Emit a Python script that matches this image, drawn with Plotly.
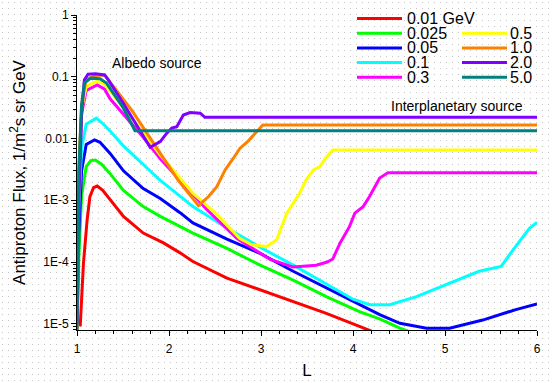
import plotly.graph_objects as go
import base64

# ---------------- data ----------------
energies = ["0.01 GeV", "0.025", "0.05", "0.1", "0.3", "0.5", "1.0", "2.0", "5.0"]
colors = ["#ff0000", "#00ff00", "#0000ff", "#00ffff", "#ff00ff",
          "#ffff00", "#ff8000", "#8000ff", "#008080"]

L_001 = [1.035, 1.07, 1.11, 1.14, 1.18, 1.22, 1.28, 1.36, 1.505, 1.72, 1.94, 2.12, 2.26, 2.63, 2.99, 3.35, 3.71, 4.07, 4.2]
F_001 = [9.1e-6, 9.5e-5, 4.8e-4, 1.15e-3, 1.6e-3, 1.7e-3, 1.45e-3, 1.02e-3, 5.5e-4, 2.95e-4, 2.04e-4, 1.41e-4, 1.02e-4, 5.5e-5, 3.55e-5, 2.3e-5, 1.48e-5, 9.1e-6, 7.6e-6]

L_0025 = [1.0, 1.02, 1.05, 1.1, 1.15, 1.2, 1.27, 1.36, 1.505, 1.72, 1.905, 2.12, 2.26, 2.63, 2.99, 3.35, 3.71, 4.07, 4.29, 4.51, 4.6]
F_0025 = [8e-6, 1.2e-4, 1.2e-3, 3.5e-3, 4.4e-3, 4.5e-3, 3.8e-3, 2.7e-3, 1.45e-3, 7.9e-4, 5.5e-4, 3.8e-4, 2.95e-4, 1.66e-4, 8.9e-5, 5.1e-5, 2.75e-5, 1.58e-5, 1.2e-5, 8.5e-6, 7.6e-6]

L_005 = [1.0, 1.02, 1.05, 1.1, 1.19, 1.25, 1.36, 1.505, 1.72, 1.905, 2.12, 2.26, 2.63, 2.99, 3.35, 3.71, 4.07, 4.29, 4.51, 4.8, 5.05, 5.41, 5.77, 6.0]
F_005 = [8e-6, 3e-4, 3e-3, 8e-3, 9.5e-3, 8.7e-3, 5.75e-3, 3.0e-3, 1.55e-3, 1.07e-3, 6.3e-4, 4.3e-4, 2.35e-4, 1.38e-4, 7.1e-5, 3.8e-5, 2.04e-5, 1.41e-5, 1.02e-5, 8.5e-6, 8.5e-6, 1.15e-5, 1.7e-5, 2.1e-5]

L_01 = [1.0, 1.02, 1.05, 1.1, 1.21, 1.28, 1.36, 1.505, 1.72, 1.905, 2.12, 2.26, 2.63, 2.99, 3.35, 3.71, 4.0, 4.18, 4.4, 4.69, 5.05, 5.37, 5.61, 5.74, 5.92, 6.0]
F_01 = [8e-6, 8e-4, 7e-3, 1.7e-2, 2.14e-2, 1.75e-2, 1.32e-2, 7.6e-3, 3.8e-3, 2.1e-3, 1.17e-3, 7.9e-4, 3.55e-4, 1.74e-4, 8.9e-5, 4.4e-5, 2.5e-5, 2.04e-5, 2.04e-5, 2.75e-5, 4.6e-5, 7.1e-5, 8.5e-5, 1.58e-4, 3.55e-4, 4.4e-4]

L_03 = [1.0, 1.02, 1.05, 1.1, 1.22, 1.3, 1.36, 1.505, 1.72, 1.905, 2.26, 2.41, 2.74, 3.1, 3.35, 3.6, 3.72, 3.78, 3.86, 3.96, 4.02, 4.11, 4.18, 4.29, 4.38, 6.0]
F_03 = [8e-6, 2e-3, 0.025, 0.06, 0.074, 0.063, 0.044, 0.025, 0.0105, 4.7e-3, 1.26e-3, 7.1e-4, 2.4e-4, 1.1e-4, 8.3e-5, 8.9e-5, 1.0e-4, 1.12e-4, 2.04e-4, 3.7e-4, 6.2e-4, 7.9e-4, 1.15e-3, 2.3e-3, 2.8e-3, 2.8e-3]

L_05 = [1.0, 1.02, 1.05, 1.1, 1.22, 1.3, 1.5, 1.72, 1.905, 2.26, 2.5, 2.77, 2.9, 3.06, 3.17, 3.28, 3.35, 3.42, 3.49, 3.57, 3.64, 3.71, 3.78, 6.0]
F_05 = [8e-6, 2.5e-3, 0.03, 0.07, 0.085, 0.076, 0.032, 0.0126, 5.4e-3, 1.3e-3, 6.3e-4, 2.4e-4, 1.9e-4, 1.78e-4, 2.3e-4, 6.2e-4, 8.9e-4, 1.3e-3, 2.14e-3, 3.1e-3, 3.5e-3, 5.0e-3, 6.5e-3, 6.5e-3]

L_10 = [1.0, 1.02, 1.05, 1.1, 1.2, 1.3, 1.6, 1.9, 2.1, 2.32, 2.43, 2.52, 2.61, 2.7, 2.77, 2.86, 2.95, 3.02, 6.0]
F_10 = [8e-6, 3e-3, 0.035, 0.09, 0.105, 0.107, 0.028, 6.0e-3, 2.1e-3, 8.2e-4, 1.15e-3, 1.66e-3, 3.1e-3, 4.8e-3, 6.9e-3, 9.1e-3, 0.0129, 0.0166, 0.0166]

L_20 = [1.0, 1.02, 1.05, 1.08, 1.12, 1.2, 1.3, 1.34, 1.5, 1.65, 1.795, 1.905, 1.976, 2.03, 2.085, 2.156, 2.23, 2.34, 2.39, 6.0]
F_20 = [1e-5, 1e-3, 0.025, 0.089, 0.11, 0.112, 0.107, 0.089, 0.038, 0.016, 7.2e-3, 8.9e-3, 0.0122, 0.0148, 0.0155, 0.024, 0.0263, 0.0257, 0.0221, 0.0221]

L_50 = [1.0, 1.02, 1.05, 1.08, 1.15, 1.25, 1.32, 1.5, 1.63, 6.0]
F_50 = [8e-6, 3e-3, 0.035, 0.079, 0.095, 0.093, 0.079, 0.032, 0.0134, 0.0134]

series_L = [L_001, L_0025, L_005, L_01, L_03, L_05, L_10, L_20, L_50]
series_F = [F_001, F_0025, F_005, F_01, F_03, F_05, F_10, F_20, F_50]

y_tickvals = [1e-5, 1e-4, 1e-3, 1e-2, 1e-1, 1]
y_ticktext = ["1E-5", "1E-4", "1E-3", "0.01", "0.1", "1"]
x_tickvals = [1, 2, 3, 4, 5, 6]

# ---------------- figure ----------------
FONT = "Arial, Liberation Sans, sans-serif"
W, H = 554, 383
ML, MR, MT, MB = 77, 17, 15, 53
PW, PH = W - ML - MR, H - MT - MB


def px(x):
    return (x - ML) / PW


def py(y):
    return (H - MB - y) / PH


fig = go.Figure()
for name, col, Ls, Fs in zip(energies, colors, series_L, series_F):
    fig.add_trace(go.Scatter(x=Ls, y=Fs, mode="lines", name=name,
                             line=dict(color=col, width=3), showlegend=False))

minor_y = [m * 10 ** e for e in range(-6, 1) for m in range(2, 10)]

fig.update_xaxes(range=[1, 6], tickvals=x_tickvals, ticks="outside", ticklen=5,
                 tickcolor="black", showline=True, linecolor="black", linewidth=1,
                 showgrid=False, zeroline=False, mirror=False, automargin=False,
                 ticklabelstandoff=3,
                 tickfont=dict(family=FONT, size=12, color="black"),
                 minor=dict(dtick=0.2, tick0=1, ticks="outside", ticklen=3,
                            tickcolor="black", showgrid=False),
                 title=dict(text="L", font=dict(family=FONT, size=17, color="black"),
                            standoff=8))
fig.update_yaxes(type="log", range=[-5.1, 0], tickmode="array", tickvals=y_tickvals,
                 ticktext=y_ticktext, ticks="outside", ticklen=5, tickcolor="black",
                 showline=True, linecolor="black", linewidth=1, showgrid=False,
                 zeroline=False, mirror=False, automargin=False,
                 tickfont=dict(family=FONT, size=12, color="black"),
                 minor=dict(tickmode="array", tickvals=minor_y, ticks="outside",
                            ticklen=3, tickcolor="black", showgrid=False),
                 title=dict(text="Antiproton Flux, 1/m<sup>2</sup>s sr GeV",
                            font=dict(family=FONT, size=17, color="black"),
                            standoff=13))

# dotted background pattern
svg = ('<svg xmlns="http://www.w3.org/2000/svg" width="%d" height="%d">'
       '<defs><pattern id="p" width="6" height="6" patternUnits="userSpaceOnUse">'
       '<rect x="2" y="2" width="1" height="1" fill="#c4c4c4"/></pattern></defs>'
       '<rect width="100%%" height="100%%" fill="url(#p)"/></svg>') % (W, H)
uri = "data:image/svg+xml;base64," + base64.b64encode(svg.encode()).decode()
images = [dict(source=uri, xref="paper", yref="paper", x=px(0), y=py(0),
               sizex=W / PW, sizey=H / PH, xanchor="left", yanchor="top",
               sizing="stretch", layer="below")]

# custom legend (two columns, second column starts on row 2)
shapes = []
annotations = []
row0, dy = 18.5, 14.7
for i, (name, col) in enumerate(zip(energies, colors)):
    if i < 5:
        x0, x1, tx, yy = 357, 402, 405, row0 + i * dy
    else:
        x0, x1, tx, yy = 462, 507, 508, row0 + (i - 4) * dy
    shapes.append(dict(type="line", xref="paper", yref="paper", x0=px(x0), x1=px(x1),
                       y0=py(yy), y1=py(yy), line=dict(color=col, width=3)))
    annotations.append(dict(text=name, xref="paper", yref="paper", x=px(tx), y=py(yy),
                            xanchor="left", yanchor="middle", showarrow=False,
                            font=dict(family=FONT, size=16, color="black")))

annotations.append(dict(text="Albedo source", xref="paper", yref="paper",
                        x=px(157), y=py(63), xanchor="center", yanchor="middle",
                        showarrow=False, font=dict(family=FONT, size=14, color="black")))
annotations.append(dict(text="Interplanetary source", xref="paper", yref="paper",
                        x=px(457), y=py(106), xanchor="center", yanchor="middle",
                        showarrow=False, font=dict(family=FONT, size=14, color="black")))

fig.update_layout(width=W, height=H, margin=dict(l=ML, r=MR, t=MT, b=MB),
                  paper_bgcolor="white", plot_bgcolor="rgba(0,0,0,0)",
                  showlegend=False, shapes=shapes, annotations=annotations,
                  images=images, font=dict(family=FONT))

fig.write_html("out.html", config={"displayModeBar": False},
               post_script="document.body.style.margin='0';"
                           "document.body.style.overflow='hidden';")
